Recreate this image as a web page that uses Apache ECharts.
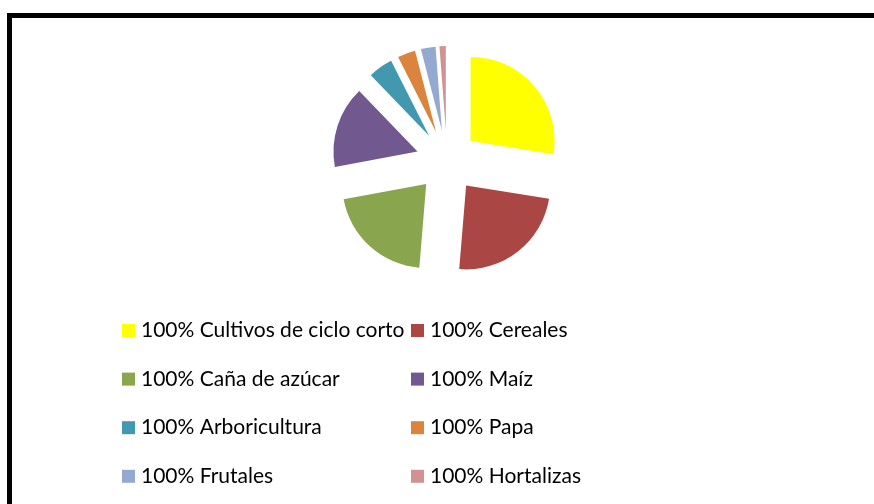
<!DOCTYPE html>
<html lang="es">
<head>
    <meta charset="utf-8">
    <title>Cultivos</title>
    <style>
        html,body,#myCanvas{
            height: 100%;
            width: 100%;
            padding: 0;
            margin: 0;
            background: #fff;
        }
    </style>
</head>
<body>
    <div id="myCanvas"></div>
    <script src="https://cdn.jsdelivr.net/npm/echarts@6/dist/echarts.min.js"></script>
    <script>
        // categorias y valores (porcentaje estimado del area)
        const categorias = ['Cultivos de ciclo corto', 'Cereales', 'Caña de azúcar', 'Maíz',
            'Arboricultura', 'Papa', 'Frutales', 'Hortalizas'];
        const valores = [27.3, 23.6, 20.6, 15.6, 4.7, 3.4, 2.8, 1.2];
        const colores = ['#FFFF00', '#AA4643', '#89A54E', '#71588F', '#4198AF', '#DB843D', '#93A9CF', '#D19392'];
        const prefijo = '100%';

        let myChart = echarts.init(document.getElementById('myCanvas'));

        let datos = categorias.map(function (c, i) {
            return { name: c, value: valores[i], selected: true, itemStyle: { color: colores[i] } };
        });

        let leyenda = function (nombres, x) {
            return {
                orient: 'vertical',
                left: x,
                top: 320,
                padding: 0,
                itemWidth: 13,
                itemHeight: 13,
                itemGap: 27.6,
                icon: 'rect',
                selectedMode: false,
                data: nombres,
                formatter: function (n) { return prefijo + ' ' + n; },
                textStyle: { fontFamily: 'Lato', fontSize: 21, lineHeight: 20, color: '#000', padding: [0, 0, 0, 1] }
            };
        };

        myChart.setOption({
            animation: false,
            graphic: [{
                type: 'rect',
                shape: { x: 9.5, y: 15.5, width: 1000, height: 1000 },
                style: { fill: 'none', stroke: '#000', lineWidth: 5 },
                silent: true
            }],
            legend: [
                leyenda(categorias.filter(function (c, i) { return i % 2 === 0; }), 122),
                leyenda(categorias.filter(function (c, i) { return i % 2 === 1; }), 411)
            ],
            series: [{
                type: 'pie',
                center: [447, 161],
                radius: 84,
                startAngle: 90,
                selectedMode: 'multiple',
                selectedOffset: 31,
                label: { show: false },
                labelLine: { show: false },
                emphasis: { disabled: true },
                select: { itemStyle: {} },
                itemStyle: { borderWidth: 0 },
                data: datos
            }]
        });
    </script>
</body>
</html>
